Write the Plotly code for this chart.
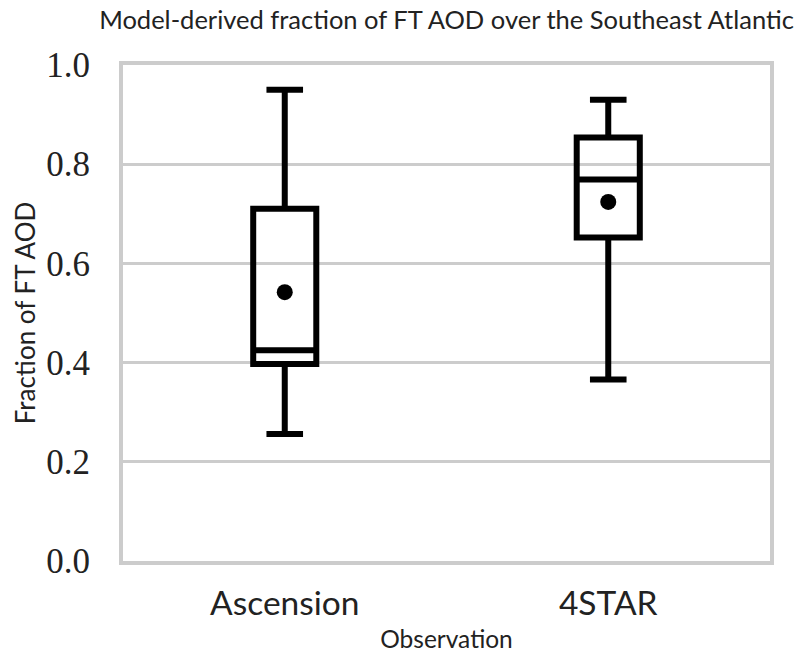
import plotly.graph_objects as go

# Summary statistics of the model-derived FT AOD fraction per observation
categories = ["Ascension", "4STAR"]
lower_whisker = [0.256, 0.366]
q1_values = [0.397, 0.652]
median_values = [0.425, 0.769]
q3_values = [0.710, 0.854]
upper_whisker = [0.950, 0.930]
mean_values = [0.542, 0.724]

y_ticks = [0.0, 0.2, 0.4, 0.6, 0.8, 1.0]

sans = "Lato, DejaVu Sans, sans-serif"
serif = "Liberation Serif, DejaVu Serif, serif"

fig = go.Figure()

fig.add_trace(go.Box(
    x=categories,
    q1=q1_values,
    median=median_values,
    q3=q3_values,
    lowerfence=lower_whisker,
    upperfence=upper_whisker,
    fillcolor="rgba(255,255,255,0)",
    line=dict(color="black", width=6),
    width=0.195,
    whiskerwidth=0.58,
    boxpoints=False,
    hoverinfo="skip",
    showlegend=False,
))

fig.add_trace(go.Scatter(
    x=categories,
    y=mean_values,
    mode="markers",
    marker=dict(color="black", size=16),
    showlegend=False,
))

fig.update_layout(
    width=796,
    height=656,
    paper_bgcolor="white",
    plot_bgcolor="white",
    margin=dict(l=123, r=26, t=65, b=95),
    title=dict(
        text="Model-derived fraction of FT AOD over the Southeast Atlantic",
        font=dict(family=sans, size=25.5, color="#222"),
        x=0.5 * (123 + 770) / 796,
        xanchor="center",
        y=1 - 20 / 656,
        yanchor="middle",
    ),
    xaxis=dict(
        type="category",
        range=[-0.5, 1.5],
        automargin=False,
        showgrid=False,
        zeroline=False,
        showline=True,
        linecolor="#cccccc",
        linewidth=4,
        mirror=True,
        ticks="outside",
        ticklen=10,
        tickcolor="rgba(0,0,0,0)",
        tickfont=dict(family=sans, size=33.5, color="#222"),
        title=dict(text="Observation", font=dict(family=sans, size=24.5, color="#222"), standoff=11),
    ),
    yaxis=dict(
        range=[0, 1.0],
        automargin=False,
        tickvals=y_ticks,
        ticktext=[f"{v:.1f}" for v in y_ticks],
        showgrid=True,
        gridcolor="#cccccc",
        gridwidth=2.5,
        zeroline=False,
        showline=True,
        linecolor="#cccccc",
        linewidth=4,
        mirror=True,
        ticks="outside",
        ticklen=22,
        tickcolor="rgba(0,0,0,0)",
        tickfont=dict(family=serif, size=35, color="#222"),
        title=dict(text="Fraction of FT AOD", font=dict(family=sans, size=26, color="#222"), standoff=4),
    ),
)

fig.write_html("out.html")
